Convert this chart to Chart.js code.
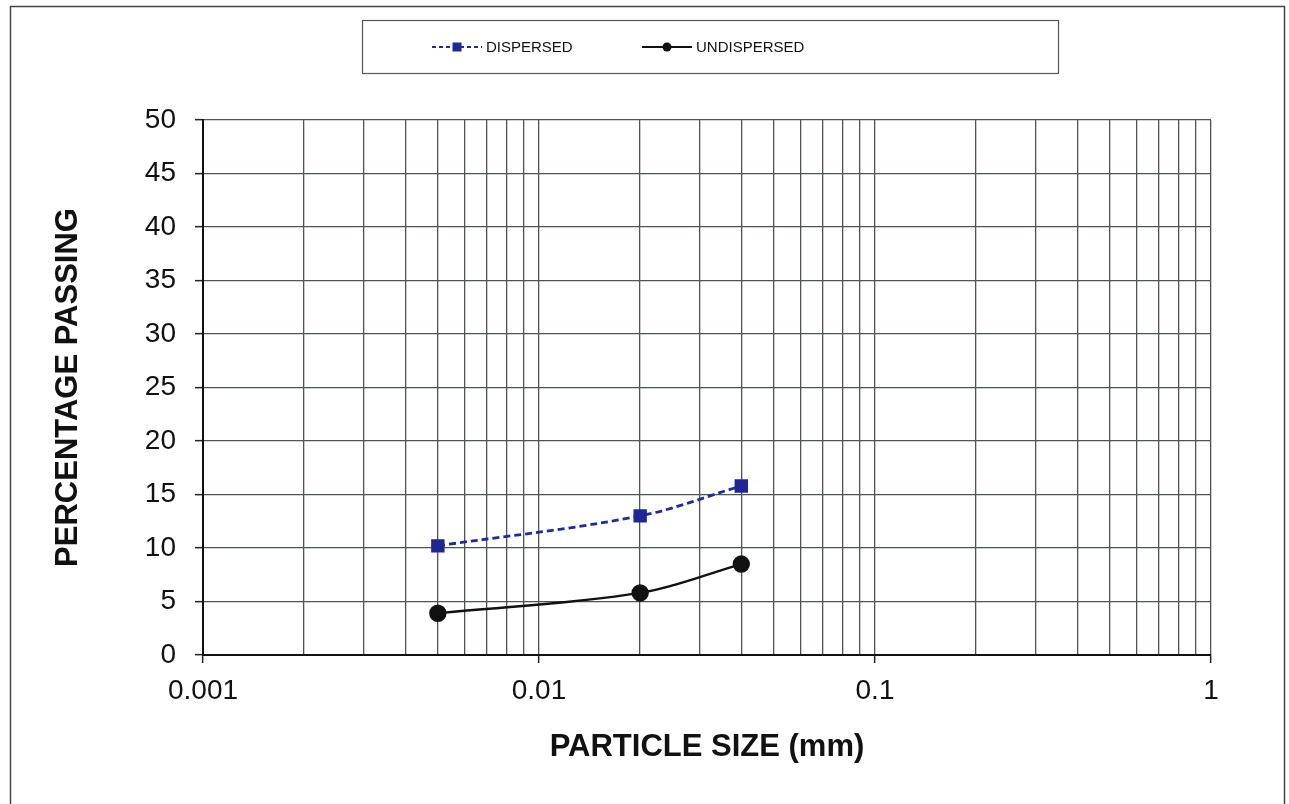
<!DOCTYPE html>
<html>
<head>
<meta charset="utf-8">
<script src="https://cdn.jsdelivr.net/npm/chart.js@4/dist/chart.umd.min.js"></script>
<style>
  html, body { margin: 0; padding: 0; background: #ffffff; }
  #wrap { width: 1289px; height: 804px; position: relative; }
</style>
</head>
<body>
<div id="wrap"><canvas id="c" width="1289" height="804"></canvas></div>
<script>
// ---- data ----
const particleSizes = [0.005, 0.02, 0.04];
const dispersed = [10.2, 13.0, 15.8];
const undispersed = [3.9, 5.8, 8.5];
const seriesNames = ['DISPERSED', 'UNDISPERSED'];
const xTickValues = [0.001, 0.002, 0.003, 0.004, 0.005, 0.006, 0.007, 0.008, 0.009,
                     0.01, 0.02, 0.03, 0.04, 0.05, 0.06, 0.07, 0.08, 0.09,
                     0.1, 0.2, 0.3, 0.4, 0.5, 0.6, 0.7, 0.8, 0.9, 1];
const xLabelValues = [0.001, 0.01, 0.1, 1];
const xLabelTexts = ['0.001', '0.01', '0.1', '1'];
const yMin = 0, yMax = 50, yStep = 5;
const xTitle = 'PARTICLE SIZE (mm)';
const yTitle = 'PERCENTAGE PASSING';

const FONT = '"Liberation Sans", Arial, Helvetica, sans-serif';
const GRID = '#4b5553';

// pick a narrow font for the legend if one is installed
function legendFont() {
  const c = document.createElement('canvas').getContext('2d');
  c.font = '18px monospace';
  const a = c.measureText('DISPERSED').width;
  c.font = '18px "Liberation Sans Narrow", monospace';
  const b = c.measureText('DISPERSED').width;
  if (Math.abs(a - b) > 0.5) return '17px "Liberation Sans Narrow", sans-serif';
  return '15px ' + FONT;
}

function isLabelled(v) {
  return xLabelValues.some(l => Math.abs(l - v) / l < 1e-6);
}
function labelFor(v) {
  const i = xLabelValues.findIndex(l => Math.abs(l - v) / l < 1e-6);
  return i >= 0 ? xLabelTexts[i] : '';
}

const framePlugin = {
  id: 'frame',
  beforeDraw(chart, args, opts) {
    const ctx = chart.ctx;
    ctx.save();
    ctx.fillStyle = '#ffffff';
    ctx.fillRect(0, 0, chart.width, chart.height);
    ctx.strokeStyle = opts.color;
    ctx.lineWidth = opts.width;
    ctx.strokeRect(opts.x, opts.y, opts.w, opts.h);
    ctx.restore();
  }
};

const boxLegendPlugin = {
  id: 'boxLegend',
  afterDraw(chart, args, opts) {
    const ctx = chart.ctx;
    ctx.save();
    ctx.strokeStyle = opts.boxColor;
    ctx.lineWidth = 1.2;
    ctx.strokeRect(opts.box.x, opts.box.y, opts.box.w, opts.box.h);
    const cy = opts.box.y + opts.box.h / 2;
    chart.data.datasets.forEach((ds, i) => {
      const x0 = opts.itemX[i];
      ctx.strokeStyle = ds.borderColor;
      ctx.lineWidth = 2;
      ctx.setLineDash(ds.borderDash && ds.borderDash.length ? [4, 3] : []);
      ctx.beginPath();
      ctx.moveTo(x0, cy);
      ctx.lineTo(x0 + opts.lineLen, cy);
      ctx.stroke();
      ctx.setLineDash([]);
      const mx = x0 + opts.lineLen / 2;
      ctx.fillStyle = ds.pointBackgroundColor;
      if (ds.pointStyle === 'rect') {
        ctx.fillRect(mx - 4.5, cy - 4.5, 9, 9);
      } else {
        ctx.beginPath();
        ctx.arc(mx, cy, 4.5, 0, Math.PI * 2);
        ctx.fill();
      }
      ctx.fillStyle = '#111';
      ctx.font = opts.font;
      ctx.textBaseline = 'middle';
      ctx.textAlign = 'left';
      ctx.fillText(ds.label, x0 + opts.lineLen + opts.gap, cy + 1);
    });
    ctx.restore();
  }
};

new Chart(document.getElementById('c'), {
  type: 'line',
  data: {
    datasets: [
      {
        label: seriesNames[0],
        data: particleSizes.map((x, i) => ({ x: x, y: dispersed[i] })),
        borderColor: '#1f2a9e',
        backgroundColor: '#1f2a9e',
        borderWidth: 2.8,
        borderDash: [7, 4],
        pointStyle: 'rect',
        pointRadius: 7.5,
        pointBackgroundColor: '#1f2795',
        pointBorderColor: '#1f2795',
        tension: 0.35,
        fill: false
      },
      {
        label: seriesNames[1],
        data: particleSizes.map((x, i) => ({ x: x, y: undispersed[i] })),
        borderColor: '#111111',
        backgroundColor: '#111111',
        borderWidth: 2.4,
        pointStyle: 'circle',
        pointRadius: 7.5,
        pointBackgroundColor: '#111111',
        pointBorderColor: '#111111',
        tension: 0.35,
        fill: false
      }
    ]
  },
  options: {
    responsive: false,
    animation: false,
    layout: { padding: { top: 120, right: 78, bottom: 0, left: 0 } },
    plugins: {
      legend: { display: false },
      tooltip: { enabled: false },
      frame: { x: 10.5, y: 6.5, w: 1274, h: 830, color: '#444', width: 1.5 },
      boxLegend: {
        box: { x: 362.5, y: 20.5, w: 696, h: 53 },
        boxColor: '#555',
        itemX: [432, 642],
        lineLen: 50,
        gap: 4,
        font: legendFont()
      }
    },
    scales: {
      x: {
        type: 'logarithmic',
        min: xTickValues[0],
        max: xTickValues[xTickValues.length - 1],
        afterBuildTicks(scale) {
          scale.ticks = xTickValues.map(v => ({ value: v }));
        },
        afterFit(scale) { scale.height = 149; },
        ticks: {
          autoSkip: false,
          maxRotation: 0,
          padding: 11,
          color: '#111',
          font: { family: FONT, size: 28 },
          callback: (v) => labelFor(v)
        },
        grid: {
          color: GRID,
          lineWidth: 1.3,
          tickLength: 8,
          tickWidth: 1.5,
          tickColor: (ctx) => (ctx.tick && isLabelled(ctx.tick.value)) ? '#222' : 'rgba(0,0,0,0)'
        },
        border: { color: '#111', width: 2 },
        title: {
          display: true,
          text: xTitle,
          color: '#111',
          font: { family: FONT, size: 31, weight: 'bold' },
          padding: { top: 0, bottom: 38 }
        }
      },
      y: {
        min: yMin,
        max: yMax,
        afterFit(scale) { scale.width = 203; },
        ticks: {
          stepSize: yStep,
          padding: 19,
          color: '#111',
          font: { family: FONT, size: 28 }
        },
        grid: {
          color: GRID,
          lineWidth: 1.3,
          tickLength: 8,
          tickWidth: 1.5,
          tickColor: '#222'
        },
        border: { color: '#111', width: 2 },
        title: {
          display: true,
          text: yTitle,
          color: '#111',
          font: { family: FONT, size: 31, weight: 'bold' },
          padding: { top: 50, bottom: 0 }
        }
      }
    }
  },
  plugins: [framePlugin, boxLegendPlugin]
});
</script>
</body>
</html>
